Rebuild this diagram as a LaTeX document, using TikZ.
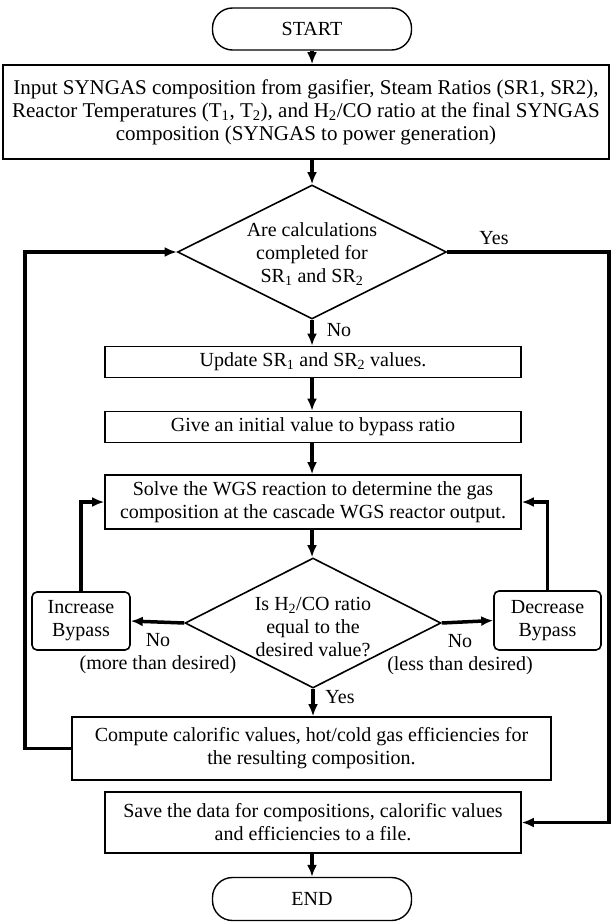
\documentclass[tikz,border=0pt]{standalone}
\usepackage{fontspec}
\setmainfont{Liberation Serif}
\usetikzlibrary{arrows.meta,shapes.geometric}
\begin{document}
\begin{tikzpicture}[x=1pt,y=-1pt,
  every node/.style={font=\fontsize{20}{23}\selectfont, inner sep=0pt, align=center},
  box/.style={draw, line width=1.6pt},
  term/.style={draw, line width=1.4pt, rounded corners=20pt, minimum width=199pt, minimum height=42pt},
  rbox/.style={draw, line width=1.6pt, rounded corners=5pt},
  dia/.style={draw, diamond, line width=1.6pt, aspect=2},
  conn/.style={line width=3.5pt, -{Latex[length=12pt,width=10pt]}},
  lnk/.style={line width=3.5pt}
]
\useasboundingbox (0,0) rectangle (611,923);

\node[term] (start) at (312,29) {START};
\node[box, minimum width=606pt, minimum height=94pt, font=\fontsize{21}{23}\selectfont] (inp) at (306,112)
  {Input SYNGAS composition from gasifier, Steam Ratios (SR1, SR2),\\
   Reactor Temperatures (T\textsubscript{1}, T\textsubscript{2}), and H\textsubscript{2}/CO ratio at the final SYNGAS\\
   composition (SYNGAS to power generation)};
\node[dia, minimum width=269pt, minimum height=134pt] (d1) at (312,252) {};
\node at (312,254) {Are calculations\\ completed for\\ SR\textsubscript{1} and SR\textsubscript{2}};
\node[box, minimum width=416pt, minimum height=31pt] (upd) at (313,362) {Update SR\textsubscript{1} and SR\textsubscript{2} values.};
\node[box, minimum width=416pt, minimum height=31pt] (give) at (313,427) {Give an initial value to bypass ratio};
\node[box, minimum width=416pt, minimum height=54pt] (solve) at (313,502)
  {Solve the WGS reaction to determine the gas\\ composition at the cascade WGS reactor output.};
\node[dia, minimum width=256pt, minimum height=130pt] (d2) at (313,623) {};
\node at (313,627) {Is H\textsubscript{2}/CO ratio\\ equal to the\\ desired value?};
\node[rbox, minimum width=98pt, minimum height=58pt] (inc) at (81,621) {Increase\\ Bypass};
\node[rbox, minimum width=107pt, minimum height=59pt] (dec) at (547.5,620.5) {Decrease\\ Bypass};
\node[box, minimum width=479pt, minimum height=63pt] (comp) at (311.5,748.5)
  {Compute calorific values, hot/cold gas efficiencies for\\ the resulting composition.};
\node[box, minimum width=416pt, minimum height=61pt] (save) at (313,822.5)
  {Save the data for compositions, calorific values\\ and efficiencies to a file.};
\node[term, minimum height=43pt] (end) at (312,899) {END};

% labels
\node (yes1) at (494,238) {Yes};
\node (no1) at (339,330) {No};
\node (no2) at (158,654) {No\\ (more than desired)};
\node (no3) at (460,655) {No\\ (less than desired)};
\node (yes2) at (340,697) {Yes};

% main flow
\draw[conn] (start.south) -- (start.south |- inp.north);
\draw[conn] (start.south |- inp.south) -- (d1.north);
\draw[conn] (d1.south) -- (d1.south |- upd.north);
\draw[conn] (d1.south |- upd.south) -- (d1.south |- give.north);
\draw[conn] (d1.south |- give.south) -- (d1.south |- solve.north);
\draw[conn] (d1.south |- solve.south) -- (d1.south |- d2.north);
\draw[conn] (d2.south) -- (d2.south |- comp.north);
\draw[conn] (d1.south |- save.south) -- (end.north);

% bypass loops
\draw[conn] (d2.west) -- (inc.east);
\draw[conn] (d2.east) -- (dec.west);
\draw[conn] (inc.north) |- (solve.west);
\draw[conn] (dec.north) |- (solve.east);

% outer loops
\coordinate (lt) at (25,748.5);
\coordinate (rt) at (609,252);
\draw[conn] (comp.west) -- (lt) |- (d1.west);
\draw[conn] (d1.east) -- (rt) |- (save.east);
\end{tikzpicture}
\end{document}
